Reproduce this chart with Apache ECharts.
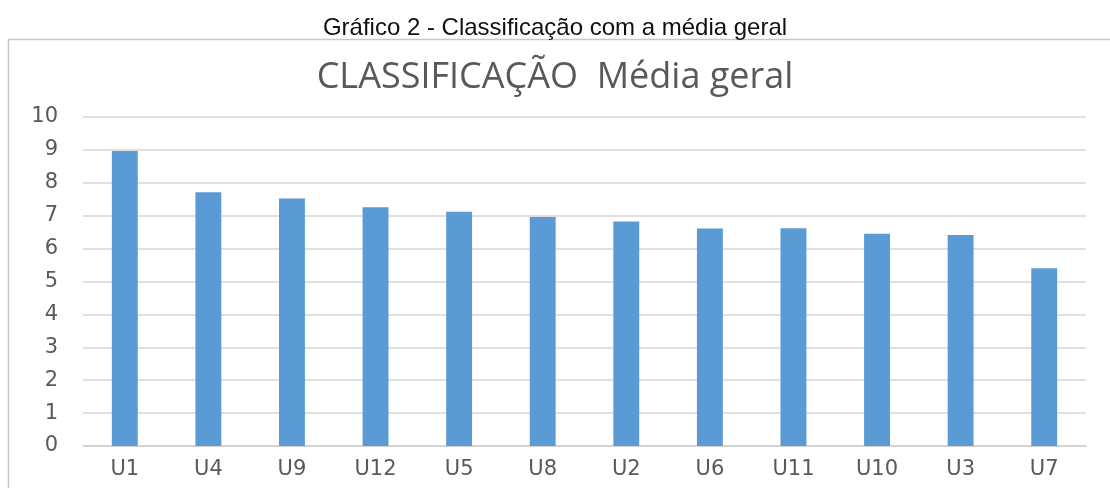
<!DOCTYPE html>
<html>
<head>
<meta charset="utf-8">
<script src="https://cdn.jsdelivr.net/npm/echarts@6/dist/echarts.min.js"></script>
<style>
  html,body{margin:0;padding:0;background:#fff;}
  #main{width:1110px;height:488px;}
</style>
</head>
<body>
<div id="main"></div>
<script>
// dados
var categorias = ['U1','U4','U9','U12','U5','U8','U2','U6','U11','U10','U3','U7']
var mediaGeral = [8.97, 7.71, 7.52, 7.26, 7.12, 6.96, 6.82, 6.61, 6.62, 6.45, 6.41, 5.40]
var yMin = 0, yMax = 10, yPasso = 1

function drawBar(eleid){
	var myChart = echarts.init(document.getElementById(eleid))
	var option = {
		animation: false,
		title: [{
			text: 'Gráfico 2 - Classificação com a média geral',
			left: 'center', top: 11,
			textStyle: {fontFamily: 'Liberation Sans', fontSize: 24, fontWeight: 'normal', color: '#111'}
		},{
			text: 'CLASSIFICAÇÃO  Média geral',
			left: 'center', top: 55,
			textStyle: {fontFamily: 'Open Sans', fontSize: 36, fontWeight: 'normal', color: '#595959'}
		}],
		graphic: [{   // moldura do gráfico
			type: 'polyline',
			shape: {points: [[8.5, 488], [8.5, 39.5], [1110, 39.5]]},
			style: {stroke: '#c8c8c8', lineWidth: 1.5, fill: null}
		}],
		grid: {left: 83, right: 24, top: 117, bottom: 42},
		xAxis: {
			type: 'category',
			data: categorias,
			axisTick: {show: false},
			axisLine: {lineStyle: {color: '#d0d0d0', width: 1.5}},
			axisLabel: {margin: 13, fontFamily: 'DejaVu Sans', fontSize: 21, color: '#595959'}
		},
		yAxis: {
			type: 'value',
			min: yMin, max: yMax, interval: yPasso,
			axisLine: {show: false},
			axisTick: {show: false},
			axisLabel: {margin: 25, fontFamily: 'DejaVu Sans', fontSize: 21, color: '#595959'},
			splitLine: {lineStyle: {color: '#d6d6d6', width: 1.5}}
		},
		series: [{
			type: 'bar',
			data: mediaGeral,
			barWidth: '31%',
			itemStyle: {color: '#5b9bd5'}   // azul das barras
		}]
	}
	myChart.setOption(option)
}
drawBar('main')
</script>
</body>
</html>
